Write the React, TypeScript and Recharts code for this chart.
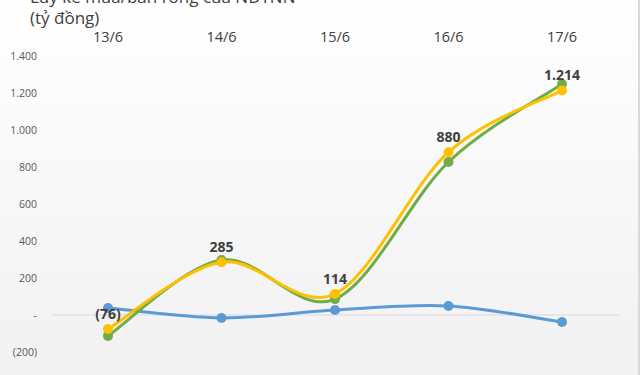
import React from 'react';
import { LineChart, Line, XAxis, YAxis, ReferenceLine, LabelList } from 'recharts';

const days = ['13/6', '14/6', '15/6', '16/6', '17/6'];
const blueValues = [38, -16, 27, 49, -38];
const greenValues = [-113, 297, 86, 827, 1249];
const yellowValues = [-76, 285, 114, 880, 1214];
const yTicks = [-200, 0, 200, 400, 600, 800, 1000, 1200, 1400];

const data = days.map((d, i) => ({
  day: d,
  blue: blueValues[i],
  green: greenValues[i],
  yellow: yellowValues[i],
}));

// số kiểu Excel: 1.400 / - / (200)
const fmt = (v: number) => {
  if (v === 0) return '-';
  const s = Math.abs(v).toString().replace(/\B(?=(\d{3})+(?!\d))/g, '.');
  return v < 0 ? `(${s})` : s;
};

// đường cong trơn kiểu Excel (Catmull-Rom)
const smoothCurve = (context: any) => {
  let pts: number[][] = [];
  return {
    areaStart() {},
    areaEnd() {},
    lineStart() { pts = []; },
    point(x: number, y: number) { pts.push([x, y]); },
    lineEnd() {
      if (!pts.length) return;
      context.moveTo(pts[0][0], pts[0][1]);
      for (let i = 0; i < pts.length - 1; i++) {
        const p0 = pts[Math.max(i - 1, 0)];
        const p1 = pts[i];
        const p2 = pts[i + 1];
        const p3 = pts[Math.min(i + 2, pts.length - 1)];
        context.bezierCurveTo(
          p1[0] + (p2[0] - p0[0]) / 6, p1[1] + (p2[1] - p0[1]) / 6,
          p2[0] - (p3[0] - p1[0]) / 6, p2[1] - (p3[1] - p1[1]) / 6,
          p2[0], p2[1]
        );
      }
    },
  };
};

const font = "'Open Sans', 'Noto Sans', sans-serif";

export default function App() {
  return (
    <div
      style={{
        position: 'fixed', top: 0, left: 0, width: 640, height: 375, overflow: 'hidden',
        background: 'linear-gradient(#ffffff 0%, #f1f1f1 100%)',
        borderRight: '2px solid #d9d9d9', boxSizing: 'border-box', fontFamily: font,
      }}
    >
      <div style={{ position: 'absolute', left: 30, top: -14, fontSize: 17, lineHeight: '22px', color: '#404040', whiteSpace: 'nowrap' }}>
        Lũy kế mua/bán ròng của NĐTNN
      </div>
      <div style={{ position: 'absolute', left: 30, top: 7, fontSize: 17, lineHeight: '22px', color: '#404040' }}>(tỷ đồng)</div>
      <div style={{ position: 'absolute', left: 0, top: 0 }}>
        <LineChart width={640} height={375} data={data} margin={{ top: 26, right: 21, bottom: 23, left: 11 }}>
          <XAxis
            dataKey="day"
            orientation="top"
            height={30}
            padding={{ left: 57, right: 57 }}
            axisLine={false}
            tickLine={false}
            tickMargin={8}
            tick={{ fill: '#404040', fontSize: 14.5, fontFamily: font }}
          />
          <YAxis
            domain={[-200, 1400]}
            ticks={yTicks}
            width={40}
            axisLine={false}
            tickLine={false}
            tickMargin={8}
            tickFormatter={fmt}
            tick={{ fill: '#595959', fontSize: 10.5, fontFamily: font }}
          />
          <ReferenceLine y={0} stroke="#d9d9d9" strokeWidth={1} />
          <Line dataKey="blue" type={smoothCurve as any} stroke="#5B9BD5" strokeWidth={3}
            dot={{ r: 5, fill: '#5B9BD5', stroke: 'none' }} isAnimationActive={false} />
          <Line dataKey="green" type={smoothCurve as any} stroke="#70AD47" strokeWidth={3}
            dot={{ r: 5, fill: '#70AD47', stroke: 'none' }} isAnimationActive={false} />
          <Line dataKey="yellow" type={smoothCurve as any} stroke="#FFC000" strokeWidth={3}
            dot={{ r: 5, fill: '#FFC000', stroke: 'none' }} isAnimationActive={false}>
            <LabelList dataKey="yellow" position="top" offset={10} formatter={(v: any) => fmt(Number(v))}
              style={{ fill: '#404040', fontSize: 14, fontWeight: 700, fontFamily: font }} />
          </Line>
        </LineChart>
      </div>
    </div>
  );
}
